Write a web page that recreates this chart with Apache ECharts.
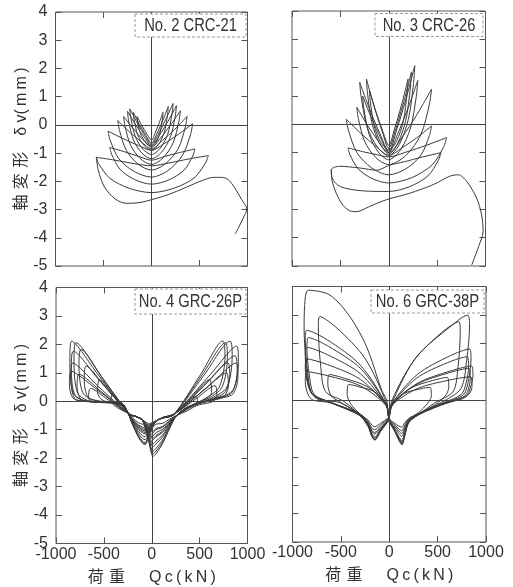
<!DOCTYPE html>
<html>
<head>
<meta charset="utf-8">
<script src="https://cdn.jsdelivr.net/npm/echarts@6/dist/echarts.min.js"></script>
<style>
html,body{margin:0;padding:0;background:#fff}
#chart{width:513px;height:587px}
</style>
</head>
<body>
<div id="chart"></div>
<script>
// Axis ranges and tick labels (shear force Qc in kN, axial deformation δv in mm)
const qTicks = [-1000, -500, 0, 500, 1000];
const dTicks = [-5, -4, -3, -2, -1, 0, 1, 2, 3, 4];
const qAxisName = '荷\u2004重\u3000\u2002Q\u2009c\u2009(\u2009k\u2009N\u2009)';
const dAxisName = '軸\u2004変\u2004形\u3000δ v(\u2009m\u2009m\u2009)';

// Specimen labels
const specimenNames = ['No. 2 CRC-21', 'No. 3 CRC-26', 'No. 4 GRC-26P', 'No. 6 GRC-38P'];

// No.2 CRC-21: one closed path per loading cycle, [Qc, δv]
const crc21Cycles = [
  [[120,0.45],[78,0.05],[36,-0.3],[0,-0.55],[-45,-0.34],[-98,-0.04],[-150,0.3],[-143,0.09],[-113,-0.33],[-60,-0.62],[0,-0.75],[48,-0.61],[90,-0.27],[114,0.21],[120,0.45]],
  [[175,0.65],[114,0.13],[53,-0.33],[0,-0.65],[-57,-0.38],[-124,0.01],[-190,0.45],[-181,0.18],[-143,-0.36],[-76,-0.74],[0,-0.9],[70,-0.71],[131,-0.28],[166,0.34],[175,0.65]],
  [[225,0.76],[146,0.18],[68,-0.34],[0,-0.7],[-68,-0.38],[-147,0.06],[-226,0.57],[-215,0.25],[-170,-0.4],[-90,-0.86],[0,-1.05],[90,-0.83],[169,-0.33],[214,0.4],[225,0.76]],
  [[260,0.68],[169,0.11],[78,-0.39],[0,-0.75],[-75,-0.44],[-163,-0.01],[-250,0.48],[-238,0.14],[-188,-0.53],[-100,-1.0],[0,-1.2],[104,-0.97],[195,-0.45],[247,0.3],[260,0.68]],
  [[300,0.5],[195,-0.02],[90,-0.48],[0,-0.8],[-87,-0.53],[-189,-0.14],[-290,0.3],[-276,-0.04],[-218,-0.72],[-116,-1.2],[0,-1.4],[120,-1.17],[225,-0.64],[285,0.12],[300,0.5]],
  [[370,0.3],[241,-0.16],[111,-0.56],[0,-0.85],[-105,-0.6],[-228,-0.25],[-350,0.15],[-333,-0.2],[-263,-0.9],[-140,-1.39],[0,-1.6],[148,-1.37],[278,-0.84],[352,-0.08],[370,0.3]],
  [[428,0.04],[278,-0.34],[128,-0.67],[0,-0.9],[-136,-0.73],[-294,-0.49],[-453,-0.22],[-430,-0.55],[-340,-1.2],[-181,-1.65],[0,-1.85],[171,-1.62],[321,-1.09],[407,-0.34],[428,0.04]],
  [[453,-0.85],[294,-0.98],[136,-1.12],[0,-1.25],[-130,-1.12],[-283,-0.95],[-435,-0.8],[-413,-1.06],[-326,-1.58],[-174,-1.94],[0,-2.1],[181,-1.95],[340,-1.6],[430,-1.1],[453,-0.85]],
  [[592,-1.09],[400,-1.2],[180,-1.35],[0,-1.45],[-170,-1.38],[-380,-1.25],[-575,-1.15],[-546,-1.4],[-431,-1.9],[-230,-2.25],[0,-2.4],[237,-2.24],[444,-1.88],[562,-1.35],[592,-1.09]]
];
const crc21Tail = [[-575,-1.15],[-555,-1.6],[-490,-2.2],[-380,-2.62],[-260,-2.78],[-120,-2.75],[0,-2.65],[150,-2.5],[300,-2.3],[450,-2.08],[560,-1.93],[645,-1.86],[730,-1.86],[800,-1.94],[870,-2.25],[940,-2.65],[993,-2.98],[955,-3.3],[905,-3.65],[871,-3.87]];

// No.3 CRC-26
const crc26Cycles = [
  [[200,1.6],[130,0.66],[60,-0.16],[0,-0.75],[-60,-0.26],[-130,0.42],[-200,1.2],[-190,0.78],[-150,-0.06],[-80,-0.65],[0,-0.9],[80,-0.6],[150,0.1],[190,1.1],[200,1.6]],
  [[235,1.85],[153,0.77],[71,-0.18],[0,-0.85],[-69,-0.24],[-150,0.62],[-231,1.6],[-219,1.08],[-173,0.04],[-92,-0.69],[0,-1.0],[94,-0.66],[176,0.14],[223,1.28],[235,1.85]],
  [[269,2.07],[175,0.86],[81,-0.2],[0,-0.95],[-90,-0.34],[-195,0.51],[-300,1.48],[-285,0.96],[-225,-0.07],[-120,-0.79],[0,-1.1],[108,-0.72],[202,0.17],[256,1.44],[269,2.07]],
  [[300,1.55],[195,0.53],[90,-0.36],[0,-1.0],[-81,-0.5],[-176,0.2],[-270,1.0],[-257,0.55],[-203,-0.35],[-108,-0.98],[0,-1.25],[120,-0.91],[225,-0.13],[285,0.99],[300,1.55]],
  [[442,1.24],[287,0.32],[133,-0.48],[0,-1.05],[-99,-0.64],[-215,-0.06],[-330,0.6],[-314,0.2],[-248,-0.61],[-132,-1.18],[0,-1.42],[177,-1.1],[332,-0.36],[420,0.71],[442,1.24]],
  [[442,-0.06],[287,-0.48],[133,-0.84],[0,-1.1],[-132,-0.78],[-285,-0.33],[-439,0.18],[-417,-0.21],[-329,-1.0],[-176,-1.54],[0,-1.78],[177,-1.57],[332,-1.09],[420,-0.4],[442,-0.06]],
  [[598,-0.47],[389,-0.74],[179,-0.98],[0,-1.15],[-126,-1.07],[-274,-0.96],[-421,-0.83],[-400,-1.08],[-316,-1.57],[-168,-1.92],[0,-2.07],[239,-1.88],[449,-1.43],[568,-0.79],[598,-0.47]],
  [[540,-1.0],[351,-1.15],[162,-1.32],[0,-1.45],[-120,-1.62],[-300,-1.54],[-508,-1.48],[-594,-1.6],[-585,-1.9],[-500,-2.2],[-260,-2.35],[0,-2.37],[216,-2.2],[405,-1.82],[513,-1.27],[540,-1.0]]
];
const crc26Tail = [[-594,-1.6],[-585,-2.0],[-540,-2.45],[-475,-2.85],[-404,-3.05],[-330,-3.08],[-200,-2.9],[-24,-2.66],[218,-2.43],[459,-2.13],[632,-1.83],[718,-1.78],[805,-2.01],[908,-2.6],[960,-3.2],[975,-3.79],[930,-4.3],[857,-4.97]];

// No.4 GRC-26P
const grc26pCycles = [
  [[130,-0.55],[230,-0.45],[358,-0.1],[463,0.18],[480,-0.1],[440,-0.2],[360,-0.35],[260,-0.5],[190,-0.62],[110,-0.78],[45,-0.8],[15,-0.9],[-40,-0.78],[-100,-0.65],[-170,-0.53],[-230,-0.45],[-328,-0.05],[-408,0.29],[-425,0.0],[-390,-0.15],[-320,-0.3],[-250,-0.42],[-200,-0.59],[-140,-0.75],[-95,-0.81],[-70,-0.85],[-20,-0.78],[50,-0.68],[130,-0.55]],
  [[130,-0.55],[230,-0.45],[435,0.22],[603,0.76],[625,0.3],[570,0.1],[450,-0.1],[360,-0.3],[260,-0.5],[190,-0.67],[110,-0.89],[45,-0.95],[15,-1.05],[-40,-0.85],[-100,-0.65],[-170,-0.53],[-230,-0.45],[-404,0.22],[-547,0.76],[-565,0.3],[-520,0.05],[-420,-0.05],[-320,-0.15],[-250,-0.42],[-200,-0.63],[-140,-0.83],[-95,-0.91],[-70,-0.95],[-20,-0.83],[50,-0.68],[130,-0.55]],
  [[130,-0.55],[230,-0.46],[467,0.1],[660,0.55],[680,0.15],[630,-0.02],[500,-0.12],[380,-0.25],[260,-0.5],[190,-0.68],[110,-0.92],[45,-1.0],[15,-1.1],[-40,-0.88],[-100,-0.65],[-170,-0.53],[-230,-0.46],[-456,0.05],[-640,0.45],[-660,0.1],[-600,-0.02],[-450,-0.06],[-320,-0.12],[-250,-0.42],[-200,-0.64],[-140,-0.86],[-95,-0.96],[-70,-1.0],[-20,-0.85],[50,-0.68],[130,-0.55]],
  [[130,-0.56],[230,-0.46],[540,0.53],[794,1.35],[815,0.85],[760,0.3],[600,0.05],[380,-0.2],[260,-0.5],[190,-0.71],[110,-0.99],[45,-1.1],[15,-1.2],[-40,-0.93],[-100,-0.65],[-170,-0.53],[-230,-0.46],[-481,0.5],[-686,1.24],[-705,0.75],[-665,0.15],[-530,0.0],[-320,-0.07],[-250,-0.4],[-200,-0.66],[-140,-0.9],[-95,-1.01],[-70,-1.05],[-20,-0.88],[50,-0.68],[130,-0.56]],
  [[130,-0.56],[230,-0.46],[532,0.35],[780,1.0],[800,0.55],[750,0.15],[600,0.02],[380,-0.2],[260,-0.5],[190,-0.74],[110,-1.06],[45,-1.2],[15,-1.3],[-40,-0.98],[-100,-0.65],[-170,-0.53],[-230,-0.46],[-521,0.32],[-760,0.95],[-780,0.5],[-735,0.05],[-600,-0.03],[-320,-0.08],[-250,-0.4],[-200,-0.68],[-140,-0.94],[-95,-1.06],[-70,-1.1],[-20,-0.9],[50,-0.68],[130,-0.56]],
  [[130,-0.57],[230,-0.47],[588,0.53],[881,1.35],[900,0.85],[845,0.25],[680,0.08],[380,-0.2],[260,-0.5],[190,-0.76],[110,-1.1],[45,-1.25],[15,-1.35],[-40,-1.0],[-100,-0.65],[-170,-0.53],[-230,-0.47],[-567,0.4],[-843,1.06],[-860,0.6],[-820,0.1],[-690,0.0],[-320,-0.07],[-250,-0.4],[-200,-0.7],[-140,-0.98],[-95,-1.11],[-70,-1.15],[-20,-0.93],[50,-0.68],[130,-0.57]],
  [[130,-0.57],[230,-0.47],[582,0.67],[870,1.6],[892,1.1],[835,0.3],[670,0.1],[380,-0.2],[260,-0.5],[190,-0.8],[110,-1.2],[45,-1.4],[15,-1.5],[-40,-1.08],[-100,-0.65],[-170,-0.53],[-230,-0.47],[-558,0.52],[-826,1.35],[-845,0.85],[-805,0.1],[-675,0.0],[-320,-0.06],[-250,-0.4],[-200,-0.73],[-140,-1.05],[-95,-1.21],[-70,-1.25],[-20,-0.98],[50,-0.68],[130,-0.57]],
  [[130,-0.57],[230,-0.47],[512,0.95],[742,2.12],[765,1.6],[705,0.5],[560,0.1],[380,-0.2],[260,-0.5],[190,-0.83],[110,-1.27],[45,-1.5],[15,-1.6],[-40,-1.13],[-100,-0.65],[-170,-0.53],[-230,-0.47],[-510,0.79],[-739,1.82],[-760,1.3],[-720,0.3],[-590,0.02],[-320,-0.06],[-250,-0.4],[-200,-0.77],[-140,-1.13],[-95,-1.31],[-70,-1.35],[-20,-1.03],[50,-0.68],[130,-0.57]],
  [[130,-0.57],[230,-0.47],[591,0.86],[887,1.94],[905,1.4],[850,0.4],[690,0.12],[380,-0.2],[260,-0.5],[190,-0.88],[110,-1.38],[45,-1.65],[15,-1.75],[-40,-1.2],[-100,-0.65],[-170,-0.53],[-230,-0.47],[-554,0.76],[-819,1.76],[-840,1.2],[-800,0.2],[-660,0.0],[-320,-0.06],[-250,-0.4],[-200,-0.8],[-140,-1.2],[-95,-1.41],[-70,-1.45],[-20,-1.08],[50,-0.68],[130,-0.57]],
  [[130,-0.58],[230,-0.47],[553,0.95],[818,2.11],[840,1.6],[785,0.5],[620,0.1],[380,-0.2],[260,-0.5],[190,-0.93],[110,-1.51],[45,-1.84],[15,-1.94],[-40,-1.3],[-100,-0.65],[-170,-0.53],[-230,-0.47],[-563,0.95],[-836,2.11],[-855,1.5],[-820,0.3],[-680,0.0],[-320,-0.06],[-250,-0.4],[-200,-0.82],[-140,-1.25],[-95,-1.48],[-70,-1.52],[-20,-1.11],[50,-0.68],[130,-0.58]],
  [[130,-0.58],[230,-0.47],[527,0.93],[770,2.06],[790,1.55],[735,0.5],[590,0.1],[380,-0.2],[260,-0.5],[190,-0.91],[110,-1.45],[45,-1.75],[15,-1.85],[-40,-1.25],[-100,-0.65],[-170,-0.53],[-230,-0.47],[-538,0.93],[-791,2.06],[-812,1.5],[-775,0.3],[-640,0.0],[-320,-0.06],[-250,-0.4],[-200,-0.82],[-140,-1.24],[-95,-1.46],[-70,-1.5],[-20,-1.1],[50,-0.68],[130,-0.58]]
];

// No.6 GRC-38P
const grc38pCycles = [
  [[0,-0.6],[30,-0.2],[147,0.22],[315,0.39],[420,0.45],[435,0.15],[400,-0.1],[300,-0.45],[200,-0.65],[160,-0.8],[130,-0.95],[100,-0.92],[50,-0.8],[0,-0.65],[-30,-0.2],[-147,0.28],[-315,0.47],[-420,0.55],[-435,0.2],[-395,-0.15],[-300,-0.5],[-220,-0.7],[-180,-0.88],[-150,-0.94],[-90,-0.82],[0,-0.6]],
  [[0,-0.62],[30,-0.18],[210,0.4],[450,0.69],[600,0.8],[615,0.45],[580,0.15],[480,-0.15],[300,-0.48],[200,-0.68],[160,-0.9],[130,-1.08],[100,-1.02],[50,-0.85],[0,-0.68],[-30,-0.2],[-217,0.45],[-465,0.77],[-620,0.9],[-635,0.55],[-600,0.15],[-520,-0.05],[-300,-0.5],[-220,-0.76],[-180,-0.98],[-150,-1.04],[-90,-0.88],[0,-0.62]],
  [[0,-0.62],[30,-0.18],[294,0.41],[630,0.71],[840,0.82],[855,0.47],[820,0.2],[650,-0.05],[450,-0.25],[300,-0.5],[200,-0.7],[160,-0.98],[130,-1.18],[100,-1.1],[50,-0.9],[0,-0.7],[-30,-0.2],[-299,0.5],[-640,0.86],[-853,1.0],[-868,0.65],[-840,0.2],[-790,0.0],[-600,-0.1],[-300,-0.5],[-220,-0.8],[-180,-1.06],[-150,-1.14],[-90,-0.95],[0,-0.65]],
  [[0,-0.62],[30,-0.16],[288,0.56],[617,0.96],[822,1.12],[837,0.77],[810,0.3],[760,0.1],[570,-0.1],[300,-0.5],[200,-0.72],[160,-1.05],[130,-1.28],[100,-1.18],[50,-0.95],[0,-0.7],[-30,-0.2],[-299,0.73],[-640,1.25],[-853,1.45],[-868,1.1],[-843,0.58],[-793,0.2],[-600,-0.1],[-300,-0.5],[-220,-0.82],[-180,-1.1],[-150,-1.2],[-90,-1.0],[0,-0.65]],
  [[0,-0.64],[30,-0.15],[282,0.77],[604,1.32],[805,1.53],[820,1.18],[795,0.61],[745,0.2],[555,-0.1],[300,-0.5],[200,-0.74],[160,-1.15],[130,-1.43],[100,-1.3],[50,-1.0],[0,-0.72],[-30,-0.2],[-299,0.93],[-640,1.6],[-853,1.86],[-868,1.5],[-843,0.74],[-793,0.2],[-600,-0.1],[-300,-0.52],[-220,-0.85],[-180,-1.18],[-150,-1.3],[-90,-1.05],[0,-0.66]],
  [[0,-0.65],[30,-0.12],[290,0.9],[622,1.55],[830,1.8],[845,1.45],[820,0.72],[770,0.2],[580,-0.1],[300,-0.52],[200,-0.76],[160,-1.2],[130,-1.5],[100,-1.35],[50,-1.02],[0,-0.72],[-30,-0.18],[-293,1.1],[-627,1.89],[-836,2.2],[-851,1.85],[-826,0.88],[-776,0.2],[-586,-0.1],[-300,-0.55],[-220,-0.88],[-180,-1.22],[-150,-1.35],[-90,-1.05],[0,-0.66]],
  [[0,-0.66],[30,-0.1],[252,1.38],[539,2.37],[719,2.76],[734,2.41],[709,1.1],[660,0.3],[470,-0.1],[300,-0.52],[200,-0.78],[160,-1.25],[130,-1.55],[100,-1.4],[50,-1.05],[0,-0.74],[-30,-0.16],[-299,1.23],[-640,2.12],[-853,2.46],[-868,2.11],[-843,0.98],[-793,0.2],[-600,-0.1],[-300,-0.55],[-220,-0.9],[-180,-1.27],[-150,-1.4],[-90,-1.1],[0,-0.68]],
  [[0,-0.68],[29,0.0],[284,1.53],[629,2.58],[810,2.99],[830,2.65],[800,1.4],[740,0.4],[540,-0.08],[300,-0.52],[200,-0.8],[160,-1.28],[132,-1.58],[100,-1.42],[50,-1.05],[0,-0.75],[-30,-0.1],[-251,1.47],[-539,2.53],[-718,2.94],[-733,2.6],[-708,1.18],[-658,0.3],[-468,-0.05],[-300,-0.55],[-220,-0.92],[-180,-1.28],[-150,-1.41],[-90,-1.1],[0,-0.7]],
  [[0,-0.7],[30,-0.15],[297,0.6],[637,1.03],[850,1.2],[865,0.85],[840,0.45],[790,0.1],[600,-0.1],[300,-0.52],[200,-0.8],[160,-1.22],[130,-1.5],[100,-1.36],[50,-1.05],[0,-0.72],[-27,0.0],[-79,0.35],[-234,1.88],[-407,2.94],[-615,3.7],[-835,3.87],[-875,3.3],[-880,2.5],[-865,1.5],[-835,0.5],[-750,0.05],[-500,-0.1],[-300,-0.55],[-220,-0.9],[-180,-1.25],[-150,-1.38],[-90,-1.1],[0,-0.7]]
];

// ---- layout ----
const latinFont = "'Liberation Sans', 'Noto Sans CJK JP', sans-serif";
const ink = '#333';
const frame = '#555';
const curveColor = '#3a3a3a';

const layout = [
  { grid: { left: 55.5, top: 12, width: 192, height: 254 }, box: [135, 14, 111, 23], xLab: false, yLab: true },
  { grid: { left: 292, top: 11, width: 193.5, height: 255 }, box: [375, 13.5, 108, 23], xLab: false, yLab: false },
  { grid: { left: 56, top: 287.5, width: 191.5, height: 256 }, box: [135, 289, 111, 25], xLab: true, yLab: true },
  { grid: { left: 292.5, top: 286.5, width: 193.5, height: 255.5 }, box: [371, 290, 113, 23], xLab: true, yLab: false }
];
const panelCurves = [
  crc21Cycles.concat([crc21Tail]),
  crc26Cycles.concat([crc26Tail]),
  grc26pCycles,
  grc38pCycles
];

const grids = [], xAxes = [], yAxes = [], series = [], graphics = [];
const tick = { inside: true, length: 6, lineStyle: { color: frame, width: 1 } };
const hiddenLine = { show: false, onZero: false };
const labelStyle = { color: ink, fontSize: 16, fontFamily: latinFont };
const nameStyle = { color: ink, fontSize: 16, fontFamily: latinFont };

layout.forEach((p, i) => {
  grids.push(Object.assign({ show: true, borderColor: frame, borderWidth: 1, backgroundColor: 'transparent', containLabel: false }, p.grid));
  const xBase = { gridIndex: i, type: 'value', min: qTicks[0], max: qTicks[qTicks.length - 1], interval: qTicks[1] - qTicks[0],
    axisLine: hiddenLine, splitLine: { show: false }, axisTick: tick };
  const yBase = { gridIndex: i, type: 'value', min: dTicks[0], max: dTicks[dTicks.length - 1], interval: dTicks[1] - dTicks[0],
    axisLine: hiddenLine, splitLine: { show: false }, axisTick: tick };
  xAxes.push(Object.assign({}, xBase, {
    position: 'bottom',
    axisLabel: Object.assign({ show: p.xLab, margin: 3, formatter: v => String(v) }, labelStyle),
    name: p.xLab ? qAxisName : '', nameLocation: 'middle', nameGap: 26, nameTextStyle: nameStyle
  }));
  xAxes.push(Object.assign({}, xBase, { position: 'top', axisLabel: { show: false } }));
  yAxes.push(Object.assign({}, yBase, {
    position: 'left',
    axisLabel: Object.assign({ show: p.yLab, margin: 8, formatter: v => String(v) }, labelStyle),
    name: p.yLab ? dAxisName : '', nameLocation: 'middle', nameRotate: 90, nameGap: 25, nameTextStyle: nameStyle
  }));
  yAxes.push(Object.assign({}, yBase, { position: 'right', axisLabel: { show: false } }));

  panelCurves[i].forEach((curve, k) => {
    const s = {
      type: 'line', xAxisIndex: 2 * i, yAxisIndex: 2 * i, data: curve,
      smooth: 0.3, symbol: 'none', silent: true, animation: false,
      lineStyle: { color: curveColor, width: 1 }
    };
    if (k === 0) {
      s.markLine = {
        silent: true, symbol: 'none', animation: false, label: { show: false },
        lineStyle: { color: '#444', width: 1, type: 'solid' },
        data: [{ xAxis: 0 }, { yAxis: 0 }]
      };
    }
    series.push(s);
  });

  // specimen label box in the upper right corner of each panel
  const [bx, by, bw, bh] = p.box;
  graphics.push({ type: 'rect', z: 100, shape: { x: bx, y: by, width: bw, height: bh },
    style: { fill: '#fff', stroke: '#9a9a9a', lineWidth: 1, lineDash: [3, 2] } });
  graphics.push({ type: 'text', z: 101, x: bx + bw / 2, y: by + bh / 2 + 1, scaleX: 0.82,
    style: { text: specimenNames[i], x: 0, y: 0, align: 'center', verticalAlign: 'middle',
      fontSize: 18, fontFamily: latinFont, fill: ink } });
});

const chart = echarts.init(document.getElementById('chart'), null, { renderer: 'canvas' });
chart.setOption({
  animation: false,
  backgroundColor: '#fff',
  grid: grids,
  xAxis: xAxes,
  yAxis: yAxes,
  series: series,
  graphic: graphics
});
</script>
</body>
</html>
